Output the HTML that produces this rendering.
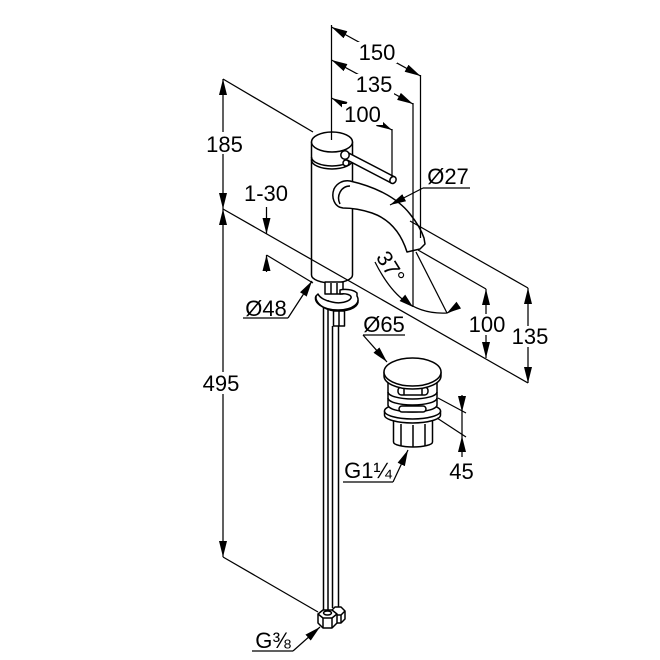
<!DOCTYPE html>
<html>
<head>
<meta charset="utf-8">
<style>
  html,body{margin:0;padding:0;background:#fff;}
  svg{display:block;}
  text{font-family:"Liberation Sans",Arial,sans-serif;font-size:22px;fill:#000;}
</style>
</head>
<body>
<svg width="660" height="660" viewBox="0 0 660 660" xmlns="http://www.w3.org/2000/svg">
  <defs>
    <marker id="ar" viewBox="0 0 16 8" refX="16" refY="4" markerWidth="16" markerHeight="8" markerUnits="userSpaceOnUse" orient="auto-start-reverse">
      <path d="M0,0 L16,4 L0,8 Z" fill="#000"/>
    </marker>
  </defs>
  <rect width="660" height="660" fill="#fff"/>

  <!-- ============ OBJECT: FAUCET ============ -->
  <g stroke="#000" stroke-width="1.5" fill="#fff" stroke-linejoin="round">
    <!-- hoses -->
    <line x1="323.5" y1="300" x2="323.5" y2="610" />
    <line x1="328" y1="300" x2="328" y2="610" />
    <line x1="332.5" y1="326" x2="332.5" y2="608" />
    <line x1="338.5" y1="326" x2="338.5" y2="608" />

    <!-- body -->
    <path d="M311.5,160 L311.5,275 A20.5,8 0 0 0 352.5,275 L352.5,160 Z"/>
    <!-- cap -->
    <path d="M311.5,142 L311.5,160 A20.5,9 0 0 0 352.5,160 L352.5,142 Z"/>
    <path d="M311.5,157 A20.5,9 0 0 0 352.5,157" fill="none"/>
    <ellipse cx="332" cy="142" rx="20.5" ry="10"/>
    <!-- lever -->
    <circle cx="346" cy="163" r="3"/>
    <polygon points="346.6,151.9 394.6,176.9 391.4,183.1 343.4,158.1"/>
    <ellipse cx="393" cy="180" rx="3" ry="3.6" transform="rotate(28 393 180)"/>
    <circle cx="345" cy="155" r="4.2"/>

    <!-- spout -->
    <path d="M350,181 C372,186 396,196 410,214 C418,224 422,232 424,238 L425,244 L420,249 L407,252 C402,236 392,220 372,213 C360,209 350,208 343,208 C334,207 331,197 334,189 C337,183 343,180 350,181 Z"/>
    <path d="M350,186 C341,186 336,196 340,204" fill="none"/>

    <!-- stem under body -->
    <rect x="325" y="282" width="18" height="12"/>
    <line x1="331" y1="283" x2="331" y2="294"/>
    <line x1="337" y1="283" x2="337" y2="294"/>
    <!-- clamp -->
    <path d="M316,296 C313,302 322,310 338,310 C353,310 361,303 357,296 L357,293 C353,289 344,289 340,290 L340,294 C346,293 352,295 351,298 C349,302 340,304 332,302 C326,301 320,298 318,294 Z"/>
    <path d="M316,296 L316,299 C318,305 326,311 338,311 C352,311 359,306 358,300" fill="none"/>
    <!-- nut -->
    <rect x="333.5" y="311" width="11" height="15"/>
    <line x1="339" y1="311" x2="339" y2="326"/>

    <!-- bottom fittings -->
    <path d="M331,611 L335,607 L341,607 L345,611 L345,619 L341,623 L335,623 L331,619 Z"/>
    <path d="M331,611 L335,615 L341,615 L345,611" fill="none"/>
    <line x1="335" y1="615" x2="335" y2="623"/>
    <line x1="341" y1="615" x2="341" y2="623"/>
    <path d="M318,614 L323,610 L332,610 L337,614 L337,623 L332,628 L323,628 L318,623 Z"/>
    <path d="M318,614 L323,618 L332,618 L337,614" fill="none"/>
    <line x1="323" y1="618" x2="323" y2="628"/>
    <line x1="332" y1="618" x2="332" y2="628"/>
    <ellipse cx="327.5" cy="613" rx="4" ry="2" fill="none"/>
  </g>

  <!-- ============ OBJECT: DRAIN ============ -->
  <g stroke="#000" stroke-width="1.5" fill="#fff" stroke-linejoin="round">
    <path d="M393.5,420 L393.5,442 A19.5,5 0 0 0 432.5,442 L432.5,420 Z"/>
    <line x1="401" y1="424" x2="401" y2="446"/>
    <line x1="413" y1="425" x2="413" y2="447"/>
    <line x1="425" y1="424" x2="425" y2="446"/>
    <!-- flange -->
    <path d="M384.5,411 L384.5,415 A28,8 0 0 0 440.5,415 L440.5,411 Z"/>
    <ellipse cx="412.5" cy="411" rx="28" ry="8"/>
    <!-- ring body -->
    <path d="M388,383 L388,405 A24.5,7 0 0 0 437,405 L437,383 Z"/>
    <path d="M388,392 A24.5,7 0 0 0 437,392" fill="none"/>
    <path d="M388,398 A24.5,7 0 0 0 437,398" fill="none"/>
    <rect x="399" y="406" width="27" height="6" rx="3"/>
    <rect x="398" y="387" width="30" height="8" rx="3.5"/>
    <line x1="404" y1="388" x2="404" y2="395"/>
    <line x1="422" y1="388" x2="422" y2="395"/>
    <!-- cap -->
    <path d="M384,372 L384,376 A28.5,13 0 0 0 441,376 L441,372 Z"/>
    <ellipse cx="412.5" cy="372" rx="28.5" ry="14"/>
  </g>

  <!-- ============ DIMENSION LINES ============ -->
  <g stroke="#000" stroke-width="1.25" fill="none">
    <!-- top verticals -->
    <line x1="331.5" y1="25" x2="331.5" y2="140"/>
    <line x1="420.5" y1="75" x2="420.5" y2="238"/>
    <line x1="413" y1="103" x2="413" y2="307"/>
    <line x1="392" y1="129" x2="392" y2="177"/>
    <!-- 150 / 135 / 100 -->
    <line x1="331.5" y1="27" x2="420.5" y2="76" marker-start="url(#ar)" marker-end="url(#ar)"/>
    <line x1="331.5" y1="60" x2="413" y2="104" marker-start="url(#ar)" marker-end="url(#ar)"/>
    <line x1="331.5" y1="98" x2="392" y2="130" marker-start="url(#ar)" marker-end="url(#ar)"/>

    <!-- 185 / 495 -->
    <line x1="223" y1="79" x2="313" y2="132"/>
    <line x1="223" y1="79" x2="223" y2="209" marker-start="url(#ar)" marker-end="url(#ar)"/>
    <line x1="223" y1="209" x2="223" y2="557" marker-start="url(#ar)" marker-end="url(#ar)"/>
    <line x1="223" y1="557" x2="318" y2="612"/>

    <!-- countertop diagonal -->
    <line x1="223" y1="209" x2="528" y2="383"/>
    <!-- 1-30 -->
    <line x1="266.5" y1="207" x2="266.5" y2="234" marker-end="url(#ar)"/>
    <line x1="266.5" y1="272" x2="266.5" y2="255" marker-end="url(#ar)"/>
    <line x1="266.5" y1="255" x2="313" y2="283"/>

    <!-- Ø27 -->
    <line x1="423" y1="188" x2="470" y2="188"/>
    <line x1="423" y1="188" x2="390" y2="205" marker-end="url(#ar)"/>
    <!-- Ø48 -->
    <line x1="243" y1="318" x2="288" y2="318"/>
    <line x1="288" y1="318" x2="312" y2="281" marker-end="url(#ar)"/>

    <!-- 37° -->
    <line x1="416" y1="252" x2="447" y2="313"/>
    <path d="M375,262 C390,292 410,315 447,313 L460,307"/>

    <!-- right 135 / 100 -->
    <line x1="410" y1="221" x2="528" y2="288"/>
    <line x1="528" y1="288" x2="528" y2="383" marker-start="url(#ar)" marker-end="url(#ar)"/>
    <line x1="418" y1="250" x2="486" y2="289"/>
    <line x1="486" y1="289" x2="486" y2="358" marker-start="url(#ar)" marker-end="url(#ar)"/>

    <!-- Ø65 -->
    <line x1="363" y1="335" x2="405" y2="335"/>
    <line x1="363" y1="335" x2="387" y2="362" marker-end="url(#ar)"/>

    <!-- 45 -->
    <line x1="438" y1="398" x2="466" y2="413"/>
    <line x1="437" y1="418" x2="466" y2="437"/>
    <line x1="462" y1="395" x2="462" y2="457"/>

    <!-- G1¼ -->
    <line x1="343" y1="482" x2="393" y2="482"/>
    <line x1="393" y1="482" x2="408" y2="450" marker-end="url(#ar)"/>

    <!-- G⅜ -->
    <line x1="252" y1="651" x2="293" y2="651"/>
    <line x1="293" y1="651" x2="320" y2="627" marker-end="url(#ar)"/>
  </g>

  <!-- manual arrowheads -->
  <g fill="#000" stroke="none">
    <!-- 37° -->
    <polygon points="413,307 399.6,301 405.2,294.6"/>
    <polygon points="447,313 461,308.5 456.5,301.8"/>
    <!-- 45 -->
    <polygon points="462,412 458,396 466,396"/>
    <polygon points="462,436 458,452 466,452"/>
  </g>

  <!-- ============ TEXT BACKGROUNDS ============ -->
  <g fill="#fff" stroke="none">
    <rect x="357" y="42" width="40" height="21"/>
    <rect x="354" y="74" width="40" height="21"/>
    <rect x="342" y="104" width="41" height="21"/>
    <rect x="205" y="132" width="39" height="22"/>
    <rect x="199" y="372" width="45" height="22"/>
    <rect x="467" y="314" width="40" height="21"/>
    <rect x="511" y="326" width="38" height="21"/>
  </g>

  <!-- ============ TEXT ============ -->
  <g text-anchor="middle">
    <text x="377" y="60">150</text>
    <text x="374" y="92">135</text>
    <text x="362.5" y="122">100</text>
    <text x="224.5" y="152">185</text>
    <text x="266" y="201">1-30</text>
    <text x="448" y="184">Ø27</text>
    <text x="266" y="316">Ø48</text>
    <text x="384" y="332">Ø65</text>
    <text x="487" y="332">100</text>
    <text x="530" y="344">135</text>
    <text x="221" y="391">495</text>
    <text x="461.5" y="479">45</text>
    <text x="368" y="478">G1¼</text>
    <text x="273" y="648">G⅜</text>
    <text transform="translate(391 267) rotate(58)" x="0" y="8">37°</text>
  </g>
</svg>
</body>
</html>
